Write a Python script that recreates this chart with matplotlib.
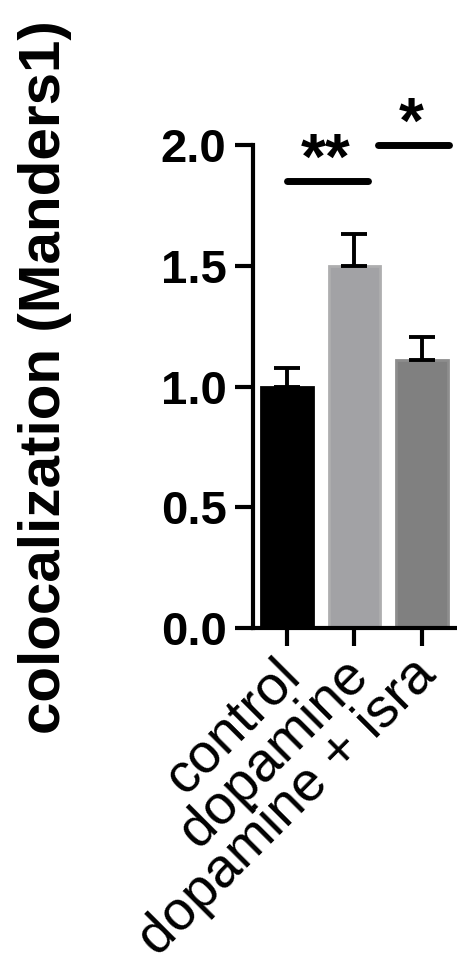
import matplotlib
matplotlib.use("Agg")
import matplotlib.pyplot as plt
import numpy as np

plt.rcParams["font.family"] = ["Liberation Sans", "DejaVu Sans"]

# group means and upper SEM
groups = ["control", "dopamine", "dopamine + isra"]
means = [1.0, 1.50, 1.11]
sem_upper = [0.077, 0.13, 0.095]
bar_colors = ["#000000", "#A2A2A5", "#808080"]
edge_colors = ["#000000", "#AEAEAF", "#8D8D8D"]

# significance brackets: (x start, x end, y, label)
sig_x = [(0.0, 1.2), (1.35, 2.4)]
sig_y = [1.85, 2.0]
sig_labels = ["**", "*"]

y_ticks = [0.0, 0.5, 1.0, 1.5, 2.0]

fig = plt.figure(figsize=(4.57, 9.71), dpi=100)
ax = fig.add_axes([0.5536, 0.3532, 0.444, 0.4974])

x = np.arange(len(groups))
ax.bar(x, means, width=0.76, color=bar_colors, edgecolor=edge_colors,
       linewidth=2.0, zorder=2)
ax.errorbar(x, means, yerr=[np.zeros(len(means)), sem_upper], fmt="none",
            ecolor="black", elinewidth=2.8, capsize=9.5, capthick=2.8, zorder=3)

for (x0, x1), yy, lab in zip(sig_x, sig_y, sig_labels):
    ax.plot([x0, x1], [yy, yy], color="black", lw=5, solid_capstyle="round",
            clip_on=False, zorder=4)
    ax.text((x0 + x1) / 2 - 0.03, yy + 0.01, lab, ha="center", va="baseline",
            fontsize=46, fontweight="bold", clip_on=False)

ax.set_xlim(-0.5, 2.5)
ax.set_ylim(0, 2.0)
ax.set_yticks(y_ticks)
ax.set_yticklabels([f"{t:.1f}" for t in y_ticks], fontsize=34, fontweight="bold")
ax.set_xticks(x)
ax.set_xticklabels([])

# slanted group names, hung off each tick
for xi, name in zip(x, groups):
    ax.annotate(name, xy=(xi, 0), xycoords=("data", "axes fraction"),
                xytext=(-9, -15), textcoords="offset points",
                rotation=45, ha="right", va="top", rotation_mode="anchor",
                fontsize=40, annotation_clip=False)

for side in ["top", "right"]:
    ax.spines[side].set_visible(False)
for side in ["left", "bottom"]:
    ax.spines[side].set_linewidth(3.0)

ax.tick_params(axis="both", length=13, width=3.0, pad=6)
ax.set_ylabel("colocalization (Manders1)", fontsize=42, fontweight="bold")
ax.yaxis.set_label_coords(-0.89, 0.52)

fig.savefig("out.png", dpi=100)
